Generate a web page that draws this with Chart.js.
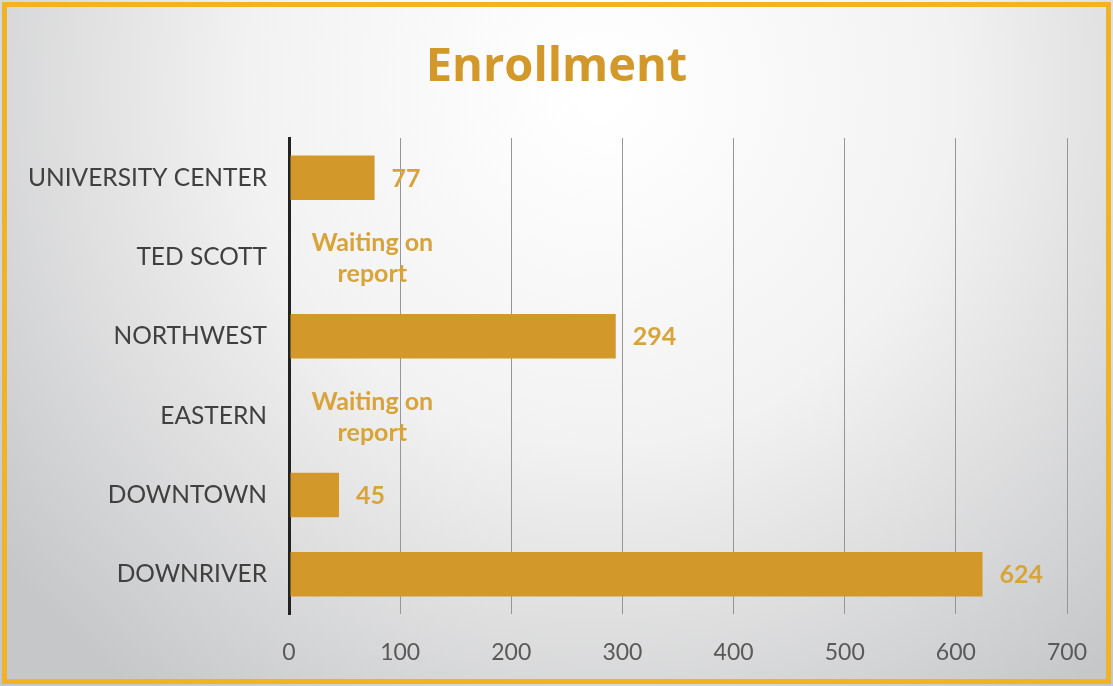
<!DOCTYPE html>
<html>
<head>
<meta charset="utf-8">
<script src="https://cdn.jsdelivr.net/npm/chart.js@4"></script>
<style>
  html, body { margin: 0; padding: 0; background: #fff; }
  #wrap { width: 1113px; height: 686px; position: relative; }
</style>
</head>
<body>
<div id="wrap"><canvas id="chart" width="1113" height="686"></canvas></div>
<script>
const categories = ['UNIVERSITY CENTER', 'TED SCOTT', 'NORTHWEST', 'EASTERN', 'DOWNTOWN', 'DOWNRIVER'];
const enrollment = [77, null, 294, null, 45, 624];
const pendingText = ['Waiting on', 'report'];
const chartTitle = 'Enrollment';
const axisMax = 700;
const axisStep = 100;

const GOLD = '#d3982a';
const LABEL_GOLD = '#d8a43a';

// background gradient, gold frame and the title (centred on the whole picture)
const backdrop = {
    id: 'backdrop',
    beforeDraw(chart) {
        const ctx = chart.ctx;
        const w = chart.width, h = chart.height;
        ctx.save();
        const g = ctx.createRadialGradient(600, 90, 20, 600, 90, 760);
        g.addColorStop(0, '#ffffff');
        g.addColorStop(0.45, '#f2f2f2');
        g.addColorStop(1, '#c6c7c9');
        ctx.fillStyle = g;
        ctx.fillRect(0, 0, w, h);
        ctx.strokeStyle = '#f1b325';
        ctx.lineWidth = 5;
        ctx.strokeRect(4.5, 4.5, w - 9, h - 9);

        ctx.fillStyle = GOLD;
        ctx.font = 'bold 47px "Open Sans"';
        ctx.textAlign = 'center';
        ctx.textBaseline = 'middle';
        ctx.fillText(chartTitle, w / 2, 68);
        ctx.restore();
    }
};

// value labels, and the "waiting on report" note for missing values
const valueLabels = {
    id: 'valueLabels',
    afterDatasetsDraw(chart) {
        const ctx = chart.ctx;
        const xs = chart.scales.x;
        const meta = chart.getDatasetMeta(0);
        ctx.save();
        ctx.fillStyle = LABEL_GOLD;
        ctx.font = 'bold 25px Lato';
        ctx.textBaseline = 'middle';
        meta.data.forEach((bar, i) => {
            const v = enrollment[i];
            const y = chart.scales.y.getPixelForValue(i);
            if (v == null) {
                ctx.textAlign = 'center';
                const cx = xs.getPixelForValue(75);
                ctx.fillText(pendingText[0], cx, y - 14);
                ctx.fillText(pendingText[1], cx, y + 17);
            } else {
                ctx.textAlign = 'left';
                ctx.fillText(String(v), xs.getPixelForValue(v) + 17, y + 1);
            }
        });
        ctx.restore();
    }
};

const canvas = document.getElementById('chart');
new Chart(canvas, {
    type: 'bar',
    data: {
        labels: categories,
        datasets: [{
            data: enrollment,
            backgroundColor: GOLD,
            borderWidth: 0,
            barPercentage: 0.56,
            categoryPercentage: 1,
        }]
    },
    options: {
        indexAxis: 'y',
        responsive: false,
        animation: false,
        layout: { padding: { left: 0, right: 46, top: 138, bottom: 0 } },
        plugins: {
            legend: { display: false },
            tooltip: { enabled: false },
            title: { display: false },
        },
        scales: {
            x: {
                min: 0,
                max: axisMax,
                ticks: {
                    stepSize: axisStep,
                    color: '#595959',
                    font: { family: 'Lato', size: 23 },
                    padding: 25,
                },
                grid: {
                    color: ctx => ctx.index === 0 ? '#222222' : '#969696',
                    lineWidth: ctx => ctx.index === 0 ? 3 : 1,
                    drawTicks: false,
                },
                border: { display: false },
                afterFit(scale) { scale.height = 72; },
            },
            y: {
                ticks: {
                    color: '#404040',
                    font: { family: 'Lato', size: 24.5 },
                    padding: 22,
                },
                grid: { display: false, drawTicks: false },
                border: { display: true, color: '#222222', width: 3 },
                afterFit(scale) { scale.width = 289; },
            }
        }
    },
    plugins: [backdrop, valueLabels]
});
</script>
</body>
</html>
